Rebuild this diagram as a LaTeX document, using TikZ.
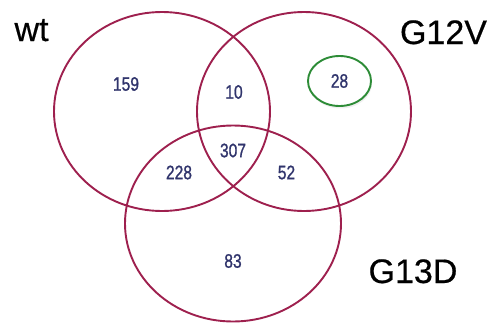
\documentclass[tikz,border=0pt]{standalone}
\usepackage{fontspec}
\setmainfont{Liberation Sans}
\newfontfamily\numfont[FakeBold=1.2]{Liberation Sans}
\newfontfamily\labfont[FakeBold=0.5]{Liberation Sans}
\usetikzlibrary{shapes.geometric,shadows}
\definecolor{venncol}{RGB}{158,32,78}
\definecolor{numcol}{RGB}{48,52,108}
\definecolor{greencol}{RGB}{45,140,55}
\tikzset{
  venn/.style={ellipse, draw=venncol, line width=1.9pt, inner sep=0pt, fill=none},
  num/.style={text=numcol, font=\numfont\fontsize{19.5}{22}\selectfont, inner sep=0pt},
  setlabel/.style={text=black, font=\labfont\fontsize{34}{40}\selectfont, anchor=base, inner sep=0pt},
}
\newcommand{\nm}[1]{\scalebox{0.8}[1]{#1}}
\begin{document}
\begin{tikzpicture}[x=1pt,y=-1pt]
\useasboundingbox (0,0) rectangle (493,322);
\node[venn, minimum width=216pt, minimum height=199pt] (wt) at (162,111.5) {};
\node[venn, minimum width=214pt, minimum height=199pt] (v) at (304,111.5) {};
\node[venn, minimum width=216pt, minimum height=196pt] (d) at (233,223.5) {};
\node[ellipse, draw=greencol, line width=1.9pt, inner sep=0pt, minimum width=63pt, minimum height=50pt,
      drop shadow={shadow xshift=1pt, shadow yshift=-2.5pt, opacity=0.12}, fill=white] (g) at (339.5,81) {};
\node[num] (n159) at (126,84) {\nm{159}};
\node[num] (n10) at (234,92) {\nm{10}};
\node[num] (n28) at (g.center) {\nm{28}};
\node[num] (n307) at (233,150.5) {\nm{307}};
\node[num] (n228) at (179,172.5) {\nm{228}};
\node[num] (n52) at (286.5,172.5) {\nm{52}};
\node[num] (n83) at (233,261) {\nm{83}};
\node[setlabel] (lwt) at (31.5,41) {wt};
\node[setlabel] (lv) at (443.5,44) {G12V};
\node[setlabel] (ld) at (413,283) {G13D};
\end{tikzpicture}
\end{document}
